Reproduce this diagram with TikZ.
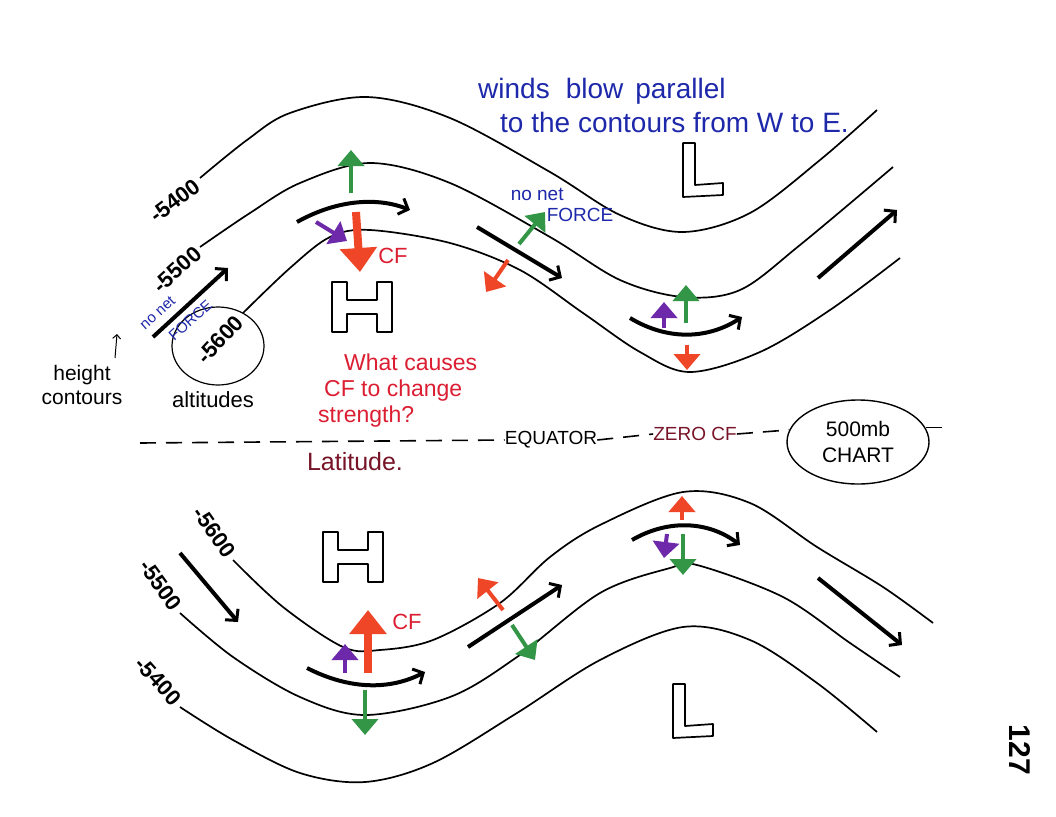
\documentclass[tikz,border=0pt]{standalone}
\usepackage{fontspec}
\setmainfont{Liberation Sans}
\usetikzlibrary{arrows.meta,shapes.geometric}

\definecolor{inkblue}{RGB}{30,40,170}
\definecolor{inkred}{RGB}{220,30,50}
\definecolor{inkmaroon}{RGB}{120,20,40}
\definecolor{cfred}{RGB}{240,70,40}
\definecolor{pgfgreen}{RGB}{50,150,70}
\definecolor{pgfpurple}{RGB}{110,40,170}

\begin{document}
\begin{tikzpicture}[x=1pt,y=-1pt,
		contour/.style={line width=1.7pt},
		wind/.style={line width=4pt, -{Straight Barb[length=8pt,width=17pt,line width=3pt]}},
		force/.style={line width=4pt, -{Triangle[width=26pt,length=16pt]}},
		bigforce/.style={line width=8pt, -{Triangle[width=36pt,length=24pt]}},
		note/.style={inner sep=0pt, align=left},
		numlabel/.style={font=\fontsize{22}{24}\selectfont\bfseries, inner sep=1pt},
		letter/.style={line width=1.7pt, line join=round},
		hletter/.pic={\draw[letter] (0,0) -- (15,0) -- (15,18) -- (45,18) -- (45,0) -- (60,0) -- (60,50) -- (45,50) -- (45,32) -- (15,32) -- (15,50) -- (0,50) -- cycle;},
		lletter/.pic={\draw[letter] (0,0) -- (12,0) -- (12,42) -- (40,40) -- (40,52) -- (0,54) -- cycle;}]
	\path[use as bounding box, fill=white] (0,0) rectangle (1056,816);
	
	% northern hemisphere contours
	\draw[contour] plot[smooth, tension=0.55] coordinates {(200,178) (247,140) (290,113) (367,97) (450,118) (550,172) (620,215) (683,232) (750,213) (820,160) (877,110)};
	\draw[contour] plot[smooth, tension=0.55] coordinates {(200,247) (250,213) (300,183) (370,163) (450,183) (550,237) (620,280) (683,297) (740,290) (800,245) (893,167)};
	\draw[contour] plot[smooth, tension=0.55] coordinates {(243,313) (290,268) (330,237) (370,230) (450,243) (520,270) (583,313) (640,352) (690,372) (760,352) (830,310) (900,258)};
	\node[numlabel, rotate=37, anchor=east] (n5400) at (198,183) {-5400};
	\node[numlabel, rotate=42, anchor=east] (n5500) at (199,250) {-5500};
	\node[numlabel, rotate=47, anchor=east] (n5600) at (240,318) {-5600};
	\draw[line width=1.2pt] (218,346) ellipse [x radius=46, y radius=39];
	
	% southern hemisphere contours
	\draw[contour] plot[smooth, tension=0.55] coordinates {(233,560) (283,607) (343,647) (380,650) (433,640) (500,603) (550,557) (600,525) (683,492) (750,503) (817,547) (883,587) (933,623)};
	\draw[contour] plot[smooth, tension=0.55] coordinates {(180,613) (233,657) (300,697) (365,715) (450,697) (517,657) (600,593) (670,568) (697,565) (783,597) (850,643) (900,677)};
	\draw[contour] plot[smooth, tension=0.55] coordinates {(180,707) (233,740) (300,773) (365,782) (433,763) (517,713) (600,660) (683,627) (750,640) (817,683) (877,732)};
	\node[numlabel, rotate=-55, anchor=east] (s5600) at (231,556) {-5600};
	\node[numlabel, rotate=-54, anchor=east] (s5500) at (178,609) {-5500};
	\node[numlabel, rotate=-48, anchor=east] (s5400) at (178,703) {-5400};
	
	% highs and lows
	\pic at (332,282) {hletter};
	\pic at (683,143) {lletter};
	\pic at (323,532) {hletter};
	\pic at (673,684) {lletter};
	
	% winds
	\draw[wind] (153,337) -- (228,268);
	\draw[wind] (297,222) .. controls (340,198) and (380,198) .. (410,210);
	\draw[wind] (477,227) -- (562,278);
	\draw[wind] (630,318) .. controls (670,342) and (710,338) .. (742,317);
	\draw[wind] (818,278) -- (897,210);
	\draw[wind] (180,553) -- (238,622);
	\draw[wind] (307,668) .. controls (350,690) and (390,690) .. (425,672);
	\draw[wind] (468,647) -- (562,585);
	\draw[wind] (632,540) .. controls (670,518) and (710,522) .. (740,545);
	\draw[wind] (818,578) -- (902,645);
	
	% forces, north
	\draw[force, pgfgreen] (351,193) -- (351,150);
	\draw[bigforce, cfred] (356,212) -- (360,272);
	\draw[force, pgfpurple] (316,222) -- (347,241);
	\draw[force, pgfgreen] (519,244) -- (545,212);
	\draw[force, cfred] (508,260) -- (486,292);
	\draw[force, pgfgreen] (686,323) -- (686,285);
	\draw[force, pgfpurple] (664,328) -- (664,302);
	\draw[force, cfred] (687,345) -- (687,370);
	% forces, south
	\draw[bigforce, cfred] (368,673) -- (368,610);
	\draw[force, pgfpurple] (345,673) -- (345,644);
	\draw[force, pgfgreen] (365,690) -- (365,735);
	\draw[force, cfred] (503,610) -- (478,578);
	\draw[force, pgfgreen] (512,625) -- (535,660);
	\draw[force, cfred] (682,520) -- (682,496);
	\draw[force, pgfgreen] (683,534) -- (683,575);
	\draw[force, pgfpurple] (667,534) -- (664,558);
	\node[note, text=inkred, font=\fontsize{22}{24}\selectfont] (cfN) at (393,256) {CF};
	\node[note, text=inkred, font=\fontsize{22}{24}\selectfont] (cfS) at (407,622) {CF};
	
	% notes
	\node[note, text=inkblue, font=\fontsize{28}{30}\selectfont, anchor=north west] (windsA) at (478,78) {winds\hspace{16pt}blow\hspace{12pt}parallel};
	\node[note, text=inkblue, font=\fontsize{28}{30}\selectfont, anchor=north west] (windsB) at (500,112) {to the contours from W to E.};
	\node[note, text=inkblue, font=\fontsize{19}{21}\selectfont] (nonetR) at (562,205) {no net\\\hspace*{36pt}FORCE};
	\node[note, text=inkblue, font=\fontsize{15}{28}\selectfont, rotate=42] (nonetL) at (176,315) {no net\\\hspace*{14pt}FORCE};
	\node[note, align=center, font=\fontsize{21}{24}\selectfont] (height) at (82,385) {height\\contours};
	\node[note, font=\fontsize{22}{24}\selectfont] (altitudes) at (213,400) {altitudes};
	\draw[line width=1pt, -{Straight Barb[length=4pt,width=8pt]}] (115,358) -- (117,334);
	\node[note, text=inkred, font=\fontsize{23}{26}\selectfont, anchor=north west] (question) at (318,354) {\hspace*{26pt}What causes\\\hspace*{6pt}CF to change\\strength?};
	\node[note, text=inkmaroon, font=\fontsize{25}{28}\selectfont] (latitude) at (355,462) {Latitude.};
	
	% equator
	\node[note, font=\fontsize{19}{20}\selectfont] (equator) at (551,440) {EQUATOR};
	\node[note, text=inkmaroon, font=\fontsize{19}{20}\selectfont] (zerocf) at (695,434) {ZERO CF};
	\node[ellipse, draw, line width=1.4pt, minimum width=142pt, minimum height=84pt, align=center, inner sep=0pt, font=\fontsize{21}{26}\selectfont] (chart) at (858,442) {500mb\\CHART};
	\coordinate (eqW) at (140,443);
	\coordinate (eqE) at (942,427);
	\draw[line width=1.6pt, dash pattern=on 16pt off 10pt] (eqW) -- (equator.west);
	\draw[line width=1.6pt, dash pattern=on 16pt off 10pt] (equator.east) -- (zerocf.west);
	\draw[line width=1.6pt, dash pattern=on 16pt off 10pt] (zerocf.east) -- (chart.170);
	\draw[line width=1.6pt] (chart.12) -- (chart.12 -| eqE);
	
	\node[font=\fontsize{30}{32}\selectfont\bfseries, rotate=-90] (page) at (1020,750) {127};
\end{tikzpicture}
\end{document}
